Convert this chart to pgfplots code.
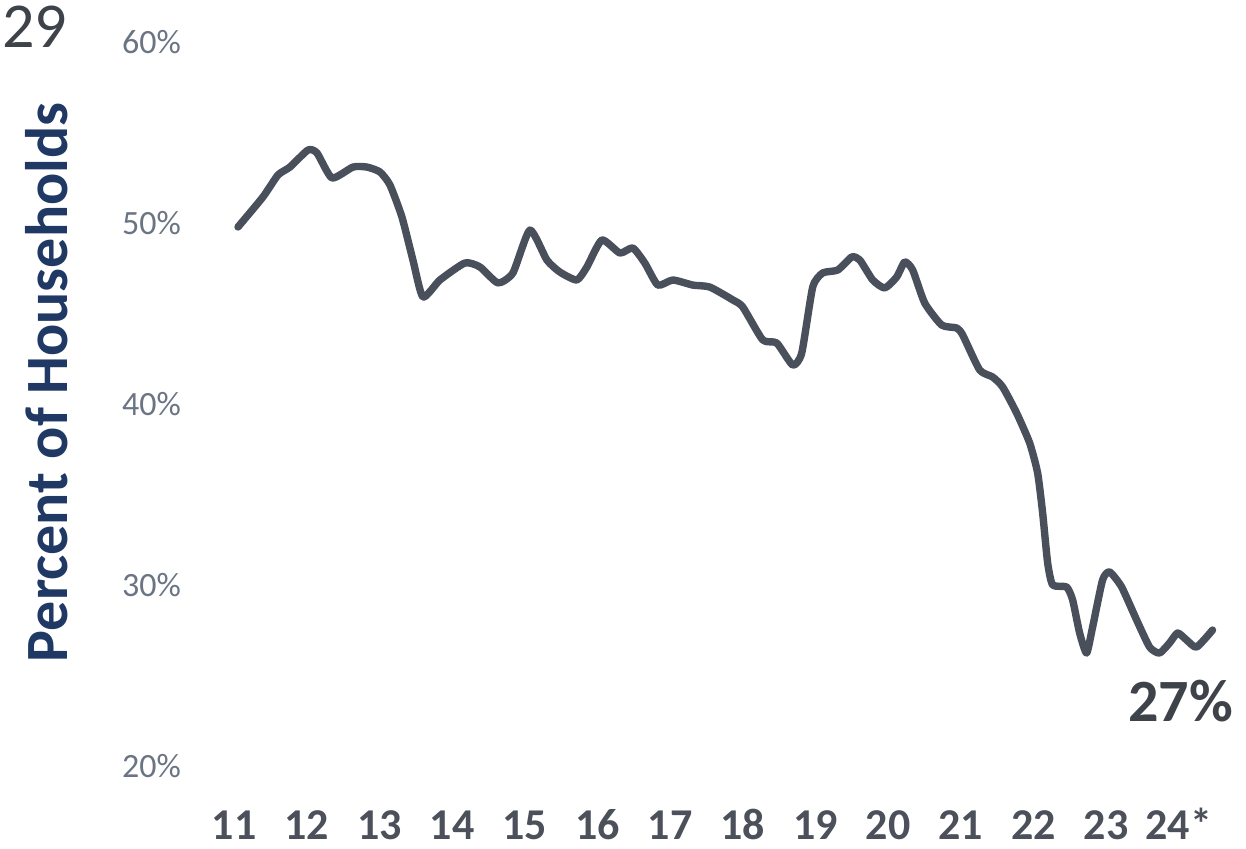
\documentclass[border=0pt]{standalone}
\usepackage{pgfplots}
\pgfplotsset{compat=1.18}
\usepackage{fontspec}
\setmainfont{Carlito}
\definecolor{linec}{HTML}{4A505B}
\definecolor{ytickc}{HTML}{6A7483}
\definecolor{xtickc}{HTML}{4B505A}
\definecolor{titlec}{HTML}{1F3864}
\definecolor{numc}{HTML}{3E4249}
\begin{document}
\begin{tikzpicture}
\begin{axis}[
  scale only axis,
  width=490.5pt, height=362pt,
  xmin=11, xmax=24.5, ymin=20, ymax=60,
  axis line style={draw=none},
  major tick length=0pt,
  clip=false,
  xtick={11,12,13,14,15,16,17,18,19,20,21,22,23,24},
  xticklabels={11,12,13,14,15,16,17,18,19,20,21,22,23,24*},
  ytick={20,30,40,50,60},
  yticklabels={20\%,30\%,40\%,50\%,60\%},
  xticklabel style={font=\fontsize{22}{24}\selectfont\bfseries, text=xtickc, anchor=base, yshift=-37pt},
  yticklabel style={font=\fontsize{17}{19}\selectfont, text=ytickc, anchor=east, xshift=-23pt},
]
\addplot[linec, line width=3.7pt, smooth, tension=0.35, line join=round, line cap=round] coordinates {
(11.055,49.78) (11.399,51.44) (11.605,52.65) (11.770,53.09) (12.018,54.03)
(12.142,53.87) (12.348,52.49) (12.637,53.09) (12.829,53.09) (13.008,52.82)
(13.146,52.10) (13.311,50.33) (13.462,47.96) (13.600,45.91) (13.834,46.85)
(14.177,47.79) (14.384,47.57) (14.631,46.69) (14.838,47.24) (15.072,49.61)
(15.305,47.96) (15.484,47.29) (15.718,46.85) (15.856,47.57) (16.062,49.06)
(16.310,48.34) (16.488,48.62) (16.653,47.79) (16.832,46.57) (17.039,46.85)
(17.314,46.57) (17.548,46.46) (17.864,45.75) (18.001,45.36) (18.276,43.54)
(18.469,43.37) (18.689,42.15) (18.813,42.82) (18.964,46.46) (19.102,47.24)
(19.308,47.40) (19.501,48.12) (19.611,47.96) (19.790,46.85) (19.955,46.41)
(20.120,47.02) (20.230,47.85) (20.340,47.40) (20.505,45.58) (20.739,44.36)
(20.945,44.20) (21.028,43.81) (21.261,41.88) (21.440,41.49) (21.578,40.94)
(21.770,39.50) (21.949,37.85) (22.059,36.19) (22.128,33.98) (22.197,31.22)
(22.266,30.00) (22.458,29.89) (22.541,29.17) (22.637,27.35) (22.733,26.24)
(22.816,27.68) (22.953,30.28) (23.050,30.72) (23.215,29.89) (23.421,28.07)
(23.600,26.57) (23.737,26.24) (23.875,26.80) (23.985,27.35) (24.109,26.96)
(24.246,26.57) (24.466,27.51)
};
\node[font=\fontsize{30}{32}\selectfont\bfseries, text=titlec, rotate=90] at (axis cs:8.42,41.2) {Percent of Households};
\node[font=\fontsize{30}{32}\selectfont\bfseries, text=numc] at (axis cs:24.03,23.6) {27\%};
\end{axis}
\node[font=\fontsize{32}{34}\selectfont, text=numc, anchor=base west, inner sep=0pt] at (-116pt,359pt) {29};
\pgfresetboundingbox
\useasboundingbox (-117pt,-41.5pt) rectangle (506pt,383pt);
\end{tikzpicture}
\end{document}
